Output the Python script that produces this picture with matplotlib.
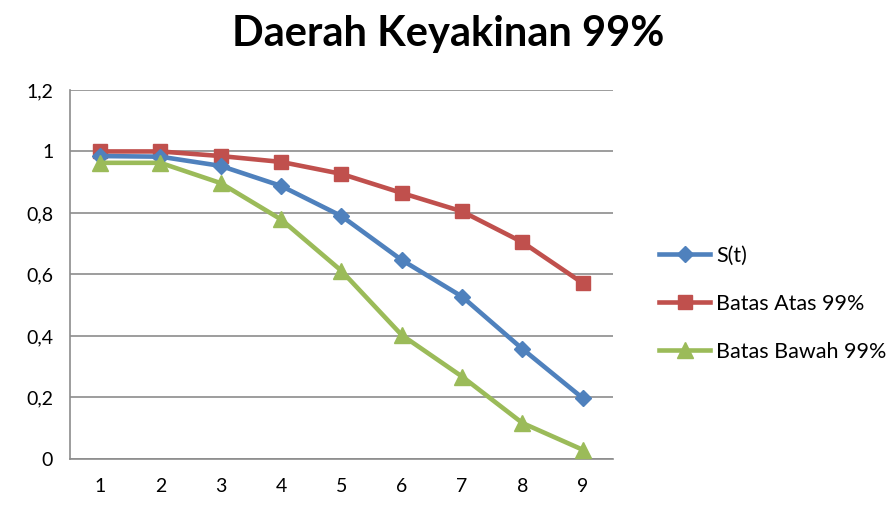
import matplotlib
matplotlib.use("Agg")
import matplotlib.pyplot as plt
from matplotlib.ticker import FuncFormatter

x = [1, 2, 3, 4, 5, 6, 7, 8, 9]
s_t = [0.985, 0.983, 0.953, 0.888, 0.790, 0.647, 0.528, 0.358, 0.198]
batas_atas = [1.0, 1.0, 0.985, 0.966, 0.927, 0.865, 0.805, 0.705, 0.572]
batas_bawah = [0.963, 0.963, 0.897, 0.779, 0.612, 0.403, 0.268, 0.117, 0.030]
labels = ["S(t)", "Batas Atas 99%", "Batas Bawah 99%"]
title = "Daerah Keyakinan 99%"

plt.rcParams['font.family'] = ['Lato', 'DejaVu Sans']

fig = plt.figure(figsize=(8.96, 5.11), dpi=100)
ax = fig.add_axes([0.078, 0.1018, 0.606, 0.7222])

ax.plot(x, s_t, color='#4F81BD', lw=3.3, marker='D', ms=8.5, label=labels[0], zorder=3)
ax.plot(x, batas_atas, color='#C0504D', lw=3.3, marker='s', ms=10.5, label=labels[1], zorder=2)
ax.plot(x, batas_bawah, color='#9BBB59', lw=3.3, marker='^', ms=11.5, label=labels[2], zorder=4)

ax.set_xlim(0.5, 9.5)
ax.set_ylim(0, 1.2)
ax.set_xticks(x)
ax.set_yticks([0, 0.2, 0.4, 0.6, 0.8, 1.0, 1.2])
ax.yaxis.set_major_formatter(FuncFormatter(lambda v, p: ('%g' % round(v, 1)).replace('.', ',')))
ax.grid(axis='y', color='#8c8c8c', lw=1.2)
ax.set_axisbelow(True)
for s in ['top', 'right']:
    ax.spines[s].set_visible(False)
for s in ['left', 'bottom']:
    ax.spines[s].set_color('#8c8c8c')
    ax.spines[s].set_linewidth(1.2)
ax.tick_params(axis='both', length=0, labelsize=14, colors='black', pad=12)
ax.tick_params(axis='x', pad=14)

fig.suptitle(title, x=0.5, y=0.97, fontsize=30, fontweight='bold')

ax.legend(loc='center left', bbox_to_anchor=(1.05, 0.42), frameon=False,
          fontsize=15.5, labelspacing=1.3, handlelength=2.35, handletextpad=0.3)

fig.savefig("out.png", dpi=100)
